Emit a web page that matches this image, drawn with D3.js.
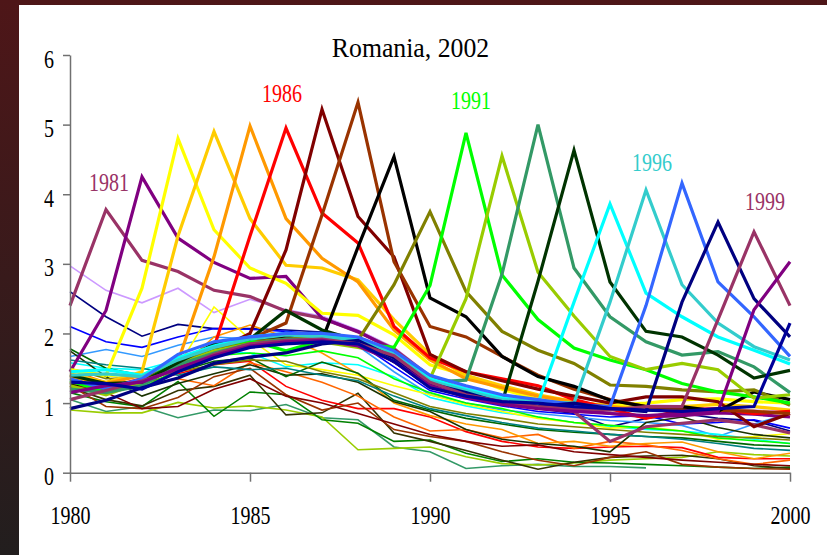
<!DOCTYPE html>
<html>
<head>
<meta charset="utf-8">
<script src="https://cdn.jsdelivr.net/npm/d3@7"></script>
<style>
  html, body { margin: 0; padding: 0; background: #231e1e; }
  svg { display: block; }
  text { font-family: "Liberation Serif", "Times New Roman", serif; }
</style>
</head>
<body>
<svg id="chart" width="827" height="555"></svg>
<script>
// ---- data ----------------------------------------------------------------
const years = [1980,1981,1982,1983,1984,1985,1986,1987,1988,1989,1990,
               1991,1992,1993,1994,1995,1996,1997,1998,1999,2000];
const yTicks = [0,1,2,3,4,5,6];
const xTicks = [1980,1985,1990,1995,2000];
const titleText = "Romania, 2002";

// cohorts whose peak falls inside the period (drawn bold)
const peak1981 = [2.40,3.78,3.05,2.89,2.62,2.53,2.32,2.22,2.02,1.78,1.38,1.18,1.06,0.98,0.88,0.45,0.66,0.71,0.76,0.69,0.57];
const peak1982 = [1.45,2.33,4.25,3.37,3.02,2.79,2.82,2.22,2.03,1.76,1.30,1.12,1.00,0.95,0.92,0.85,0.80,0.82,0.86,0.84,0.80];
const peak1983 = [1.48,1.40,2.65,4.80,3.49,2.94,2.72,2.29,2.26,1.98,1.55,1.40,1.20,1.05,1.00,0.97,1.00,1.05,1.06,1.02,1.00];
const peak1984 = [1.42,1.30,1.45,3.40,4.90,3.65,2.98,2.94,2.77,2.20,1.70,1.40,1.25,1.12,1.02,0.95,0.92,0.95,0.98,0.95,0.90];
const peak1985 = [1.38,1.28,1.40,1.60,3.10,4.98,3.65,3.08,2.74,2.05,1.62,1.35,1.22,1.10,1.02,0.95,0.90,0.92,0.90,0.88,0.85];
const peak1986 = [1.30,1.22,1.35,1.62,1.80,3.40,4.95,3.73,3.30,2.10,1.65,1.45,1.35,1.25,1.05,0.92,0.78,0.90,0.92,0.85,0.88];
const peak1987 = [1.25,1.20,1.30,1.55,1.75,2.00,3.20,5.22,3.68,3.10,1.70,1.45,1.32,1.20,1.10,1.00,1.09,1.09,1.02,0.66,0.85];
const peak1988 = [1.20,1.18,1.28,1.52,1.72,1.92,2.15,3.70,5.32,3.03,2.10,1.95,1.67,1.40,1.20,1.05,0.95,0.92,0.90,0.88,0.85];
const peak1989 = [1.28,1.25,1.30,1.60,1.78,1.90,1.95,1.90,3.24,4.54,2.51,2.24,1.67,1.38,1.24,1.04,0.95,0.95,0.88,1.16,1.05];
const peak1990 = [1.30,1.22,1.32,1.58,1.80,1.88,1.92,1.95,1.90,2.70,3.75,2.60,2.03,1.76,1.57,1.26,1.24,1.19,1.16,1.19,0.97];
const peak1991 = [1.32,1.15,1.28,1.62,1.82,1.90,1.75,1.90,1.85,1.80,2.69,4.88,2.84,2.20,1.79,1.62,1.48,1.28,1.16,1.09,1.00];
const peak1992 = [1.25,1.12,1.30,1.55,1.75,1.85,1.90,1.88,1.80,1.70,1.35,2.50,4.55,2.88,2.25,1.67,1.48,1.57,1.48,1.07,1.12];
const peak1993 = [1.20,1.15,1.25,1.55,1.72,1.85,1.92,1.90,1.85,1.65,1.30,1.33,2.85,5.00,2.94,2.24,1.88,1.69,1.74,1.52,1.15];
const peak1994 = [1.40,1.28,1.30,1.58,1.85,1.92,2.33,2.05,1.90,1.70,1.30,1.15,1.00,2.75,4.63,2.74,2.03,1.95,1.69,1.36,1.47];
const peak1995 = [1.45,1.48,1.40,1.65,1.82,1.95,2.00,1.98,1.92,1.72,1.35,1.20,1.08,1.00,2.45,3.86,2.58,2.24,1.95,1.76,1.56];
const peak1996 = [1.40,1.42,1.38,1.62,1.80,1.92,1.98,1.95,1.90,1.70,1.32,1.18,1.05,1.02,1.00,2.45,4.06,2.70,2.15,1.81,1.62];
const peak1997 = [1.35,1.20,1.35,1.70,1.88,1.95,2.00,2.00,1.95,1.75,1.40,1.25,1.12,1.05,0.98,0.95,2.40,4.16,2.74,2.24,1.67];
const peak1998 = [0.92,1.04,1.22,1.36,1.57,1.66,1.72,1.85,1.90,1.65,1.28,1.15,1.00,0.95,1.00,0.92,0.88,2.45,3.60,2.50,1.95];
const peak1999 = [1.05,1.18,1.32,1.48,1.70,1.85,1.90,1.92,1.85,1.68,1.30,1.12,1.02,0.95,0.92,0.90,0.95,0.95,2.20,3.46,2.40];
const peak2000 = [1.15,1.25,1.30,1.50,1.68,1.82,1.88,1.90,1.82,1.60,1.25,1.08,0.98,0.92,0.88,0.85,0.82,0.85,0.88,2.34,3.03];
const peak2001 = [1.30,1.28,1.20,1.45,1.65,1.80,1.85,1.88,1.85,1.60,1.22,1.10,1.02,1.00,0.95,0.92,0.90,0.88,0.92,0.95,2.15];

// earlier cohorts (drawn thin)
const early01 = [2.97,2.62,2.44,2.65,2.30,2.49,2.34,2.25,2.05,1.80,1.40,1.22,1.10,1.02,0.98,0.95,0.97,0.96,0.92,0.90,0.88];
const early02 = [2.60,2.24,1.96,2.13,2.07,2.07,2.05,2.02,1.88,1.58,1.22,1.12,1.02,0.92,0.85,0.66,0.78,0.85,0.78,0.75,0.60];
const early03 = [2.10,1.88,1.80,1.95,2.07,2.06,2.03,1.98,1.87,1.52,1.18,1.06,0.96,0.88,0.84,0.80,0.82,0.70,0.72,0.76,0.64];
const early04 = [1.67,1.77,1.67,1.83,1.95,1.92,1.96,1.92,1.82,1.45,1.12,1.00,0.90,0.85,0.80,0.75,0.72,0.68,0.52,0.70,0.85];
const early05 = [1.58,1.50,1.48,1.62,1.74,1.72,1.52,1.58,1.55,1.38,1.08,0.96,0.86,0.80,0.72,0.66,0.62,0.60,0.55,0.48,0.42];
const early06 = [1.05,0.88,0.95,0.79,0.90,0.89,0.98,0.79,0.76,0.37,0.30,0.06,0.10,0.12,0.09,0.09,0.07,null,null,null,null];
const early07 = [0.90,0.86,0.86,1.01,0.93,0.96,0.90,0.80,0.33,0.35,0.37,0.23,0.13,0.11,0.14,0.18,0.20,0.22,0.30,0.26,0.24];
const early08 = [1.15,1.02,0.95,1.31,0.81,1.16,1.12,0.76,0.71,0.45,0.47,0.28,0.16,0.20,0.15,0.14,0.12,0.10,0.08,0.06,0.08];
const early09 = [1.22,1.05,0.96,1.18,1.24,1.40,0.83,0.86,1.14,0.57,0.45,0.32,0.18,0.05,0.15,0.22,0.24,0.25,0.20,0.10,0.06];
const early10 = [1.30,1.22,1.28,1.42,1.55,1.60,1.24,1.04,0.92,0.92,0.80,0.59,0.45,0.37,0.35,0.37,0.38,0.36,0.22,0.20,0.20];
const early11 = [1.48,1.30,1.25,1.35,1.25,1.58,1.45,1.30,1.10,0.80,0.60,0.62,0.50,0.55,0.35,0.45,0.40,0.32,0.20,0.12,0.18];
const early12 = [1.25,0.95,0.92,1.08,1.38,1.50,1.12,0.90,1.00,0.62,0.52,0.45,0.30,0.18,0.10,0.22,0.30,0.12,0.08,0.06,0.05];
const early13 = [1.45,1.38,1.42,1.52,2.38,1.92,1.55,1.48,1.40,1.25,1.12,0.98,0.88,0.78,0.72,0.64,0.66,0.60,0.48,0.52,0.56];
const early14 = [1.35,1.22,1.30,1.48,1.95,2.12,1.95,1.72,1.42,1.00,0.82,0.70,0.62,0.42,0.45,0.38,0.42,0.44,0.30,0.20,0.28];
const early15 = [1.28,1.18,1.22,1.48,1.68,1.72,1.68,1.75,1.65,1.35,1.15,1.00,0.92,0.80,0.72,0.68,0.64,0.60,0.50,0.46,0.42];
const early16 = [1.75,1.38,1.10,1.28,1.42,1.55,1.40,1.42,1.30,1.02,0.88,0.62,0.48,0.42,0.38,0.30,0.72,0.80,0.65,0.55,0.50];
const early17 = [1.40,1.15,0.92,0.95,1.20,1.35,1.10,1.00,0.85,0.70,0.55,0.45,0.38,0.40,0.30,0.26,0.22,0.18,0.15,0.12,0.10];
const early18 = [1.78,1.50,1.40,1.45,1.60,1.65,1.38,1.59,1.43,1.04,0.90,0.78,0.70,0.62,0.58,0.55,0.52,0.50,0.45,0.40,0.38];
const early19 = [1.62,1.55,1.50,1.40,1.52,1.48,1.50,1.40,1.32,1.10,0.92,0.82,0.72,0.64,0.60,0.55,0.52,0.48,0.42,0.35,0.32];
const early20 = [1.50,1.35,1.38,1.45,1.55,1.62,1.60,1.45,1.35,1.15,0.95,0.85,0.78,0.70,0.66,0.62,0.58,0.55,0.52,0.50,0.47];

// year labels written next to selected peaks
const peakLabels = ["1981", "1986", "1991", "1996", "1999"];

// ---- styling ---------------------------------------------------------------
const boldSeries = [
  {values: peak1981, color: "#993366", year: 1981},
  {values: peak1982, color: "#800080", year: 1982},
  {values: peak1983, color: "#ffff00", year: 1983},
  {values: peak1984, color: "#ffcc00", year: 1984},
  {values: peak1985, color: "#ff9900", year: 1985},
  {values: peak1986, color: "#ff0000", year: 1986},
  {values: peak1987, color: "#800000", year: 1987},
  {values: peak1988, color: "#993300", year: 1988},
  {values: peak1989, color: "#000000", year: 1989},
  {values: peak1990, color: "#808000", year: 1990},
  {values: peak1991, color: "#00ff00", year: 1991},
  {values: peak1992, color: "#99cc00", year: 1992},
  {values: peak1993, color: "#339966", year: 1993},
  {values: peak1994, color: "#003300", year: 1994},
  {values: peak1995, color: "#00ffff", year: 1995},
  {values: peak1996, color: "#33cccc", year: 1996},
  {values: peak1997, color: "#3366ff", year: 1997},
  {values: peak1998, color: "#000080", year: 1998},
  {values: peak1999, color: "#993366", year: 1999},
  {values: peak2000, color: "#800080", year: 2000},
  {values: peak2001, color: "#000099", year: 2001}
];
const thinSeries = [
  {values: early01, color: "#cc99ff"},
  {values: early02, color: "#000080"},
  {values: early03, color: "#0000ff"},
  {values: early04, color: "#3399ff"},
  {values: early05, color: "#00ffff"},
  {values: early06, color: "#339966"},
  {values: early07, color: "#99cc00"},
  {values: early08, color: "#008000"},
  {values: early09, color: "#333300"},
  {values: early10, color: "#ff0000"},
  {values: early11, color: "#ff6600"},
  {values: early12, color: "#993300"},
  {values: early13, color: "#ffff00"},
  {values: early14, color: "#ff9900"},
  {values: early15, color: "#00ff00"},
  {values: early16, color: "#1a3300"},
  {values: early17, color: "#800000"},
  {values: early18, color: "#006600"},
  {values: early19, color: "#008080"},
  {values: early20, color: "#808000"}
];
const labelOffsets = {
  "1981": [3, -19], "1986": [-4, -26], "1991": [5, -24],
  "1996": [6, -19], "1999": [11, -22]
};

// ---- drawing ---------------------------------------------------------------
const W = 827, H = 555;
const svg = d3.select("#chart");

const defs = svg.append("defs");
const grad = defs.append("linearGradient")
  .attr("id", "frameGrad").attr("x1", 0).attr("y1", 0).attr("x2", 0).attr("y2", 1);
grad.append("stop").attr("offset", "0%").attr("stop-color", "#4e1618");
grad.append("stop").attr("offset", "100%").attr("stop-color", "#221e1e");

svg.append("rect").attr("width", W).attr("height", H).attr("fill", "url(#frameGrad)");
svg.append("rect").attr("x", 19).attr("y", 5).attr("width", W - 19).attr("height", H - 5)
  .attr("fill", "#ffffff");

const x = d3.scaleLinear().domain([1980, 2000]).range([70, 790]);
const y = d3.scaleLinear().domain([0, 6]).range([472.7, 55]);

const line = d3.line()
  .defined(d => d[1] != null)
  .x(d => x(d[0]))
  .y(d => y(d[1]));

const toPoints = vals => years.map((yr, i) => [yr, vals[i]]);

const plot = svg.append("g");

plot.selectAll("path.thin")
  .data(thinSeries)
  .join("path")
  .attr("class", "thin")
  .attr("fill", "none")
  .attr("stroke", d => d.color)
  .attr("stroke-width", 1.6)
  .attr("stroke-linejoin", "miter")
  .attr("d", d => line(toPoints(d.values)));

plot.selectAll("path.bold")
  .data(boldSeries)
  .join("path")
  .attr("class", "bold")
  .attr("fill", "none")
  .attr("stroke", d => d.color)
  .attr("stroke-width", 3.2)
  .attr("stroke-linejoin", "miter")
  .attr("d", d => line(toPoints(d.values)));

// axes
const axisColor = "#707070";
const xAxis = svg.append("g")
  .attr("transform", `translate(0,${y(0)})`)
  .call(d3.axisBottom(x).tickValues(xTicks).tickFormat(d3.format("d"))
        .tickSize(9).tickSizeOuter(0));
const yAxis = svg.append("g")
  .attr("transform", `translate(${x(1980)},0)`)
  .call(d3.axisLeft(y).tickValues(yTicks).tickFormat(d3.format("d"))
        .tickSize(7).tickSizeOuter(0));

[xAxis, yAxis].forEach(g => {
  g.select(".domain").attr("stroke", axisColor).attr("stroke-width", 1.5);
  g.selectAll(".tick line").attr("stroke", axisColor).attr("stroke-width", 1.5);
  g.selectAll(".tick text")
    .attr("fill", "#000")
    .attr("font-size", 25)
    .attr("font-family", "Liberation Serif, serif");
});
xAxis.selectAll(".tick text")
  .attr("y", 51).attr("dy", 0)
  .attr("transform", "scale(0.8,1)");
yAxis.selectAll(".tick text")
  .attr("x", -20).attr("y", 12).attr("dy", 0)
  .attr("transform", "scale(0.8,1)");

// title
svg.append("text")
  .attr("transform", "translate(410.5,57) scale(0.92,1)")
  .attr("text-anchor", "middle")
  .attr("font-size", 28)
  .attr("fill", "#000")
  .text(titleText);

// peak year labels
peakLabels.forEach(lbl => {
  const s = boldSeries.find(d => String(d.year) === lbl);
  const idx = years.indexOf(s.year);
  const [dx, dy] = labelOffsets[lbl];
  svg.append("text")
    .attr("transform", `translate(${x(s.year) + dx},${y(s.values[idx]) + dy}) scale(0.8,1)`)
    .attr("text-anchor", "middle")
    .attr("font-size", 25)
    .attr("fill", s.color === "#000099" ? "#000" : (lbl === "1996" ? "#33cccc" : s.color))
    .text(lbl);
});
</script>
</body>
</html>
